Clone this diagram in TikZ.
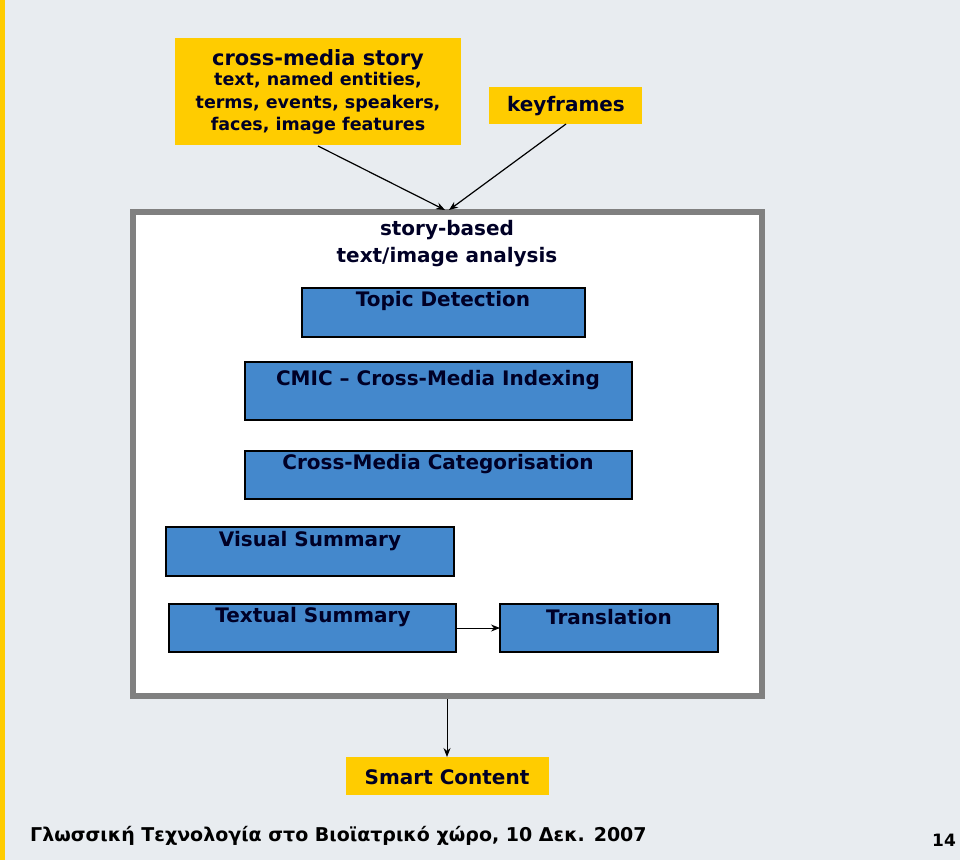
\documentclass[tikz,border=0pt]{standalone}
\usepackage{fontspec}
\setmainfont{DejaVu Sans}
\usetikzlibrary{arrows.meta}
\definecolor{bg}{HTML}{E8ECF0}
\definecolor{ylw}{HTML}{FFCC00}
\definecolor{blu}{HTML}{4488CC}
\definecolor{frm}{HTML}{808080}
\tikzset{
 x=1pt,y=-1pt,
 bluebox/.style={draw=black,line width=1.2pt,fill=blu},
 ylwbox/.style={fill=ylw},
 lbl/.style={font=\bfseries\fontsize{20}{22}\selectfont,text=black!85!blue,inner sep=0pt},
 conn/.style={-{Stealth[length=9pt,width=7pt]},line width=1pt}
}
\begin{document}
\begin{tikzpicture}
\fill[bg] (0,0) rectangle (960,860);
\fill[ylw] (0,0) rectangle (5,860);
\useasboundingbox (0,0) rectangle (960,860);
% top yellow boxes
\fill[ylwbox] (175,38) rectangle (461,145);
\node[lbl,align=center,font=\bfseries\fontsize{21}{23}\selectfont] (cms) at (318,60) {cross-media story};
\node[lbl,align=center,font=\bfseries\fontsize{17.5}{22.5}\selectfont,anchor=north] (cmt) at (318,72) {text, named entities,\\terms, events, speakers,\\faces, image features};
\coordinate (cmb) at (318,146);
\fill[ylwbox] (489,87) rectangle (642,124);
\node[lbl] (kf) at (566,106) {keyframes};
\coordinate (kfb) at (566,124);
% frame
\draw[frm,line width=6pt,fill=white] (133,212) rectangle (762,696);
\coordinate (ftop) at (447,209);
\coordinate (fbot) at (447,699);
\node[lbl,align=center,font=\bfseries\fontsize{20}{27}\selectfont] (sb) at (447,244) {story-based\\text/image analysis};
% blue boxes
\draw[bluebox] (302,288) rectangle (585,337);
\node[lbl] (td) at (443,301) {Topic Detection};
\draw[bluebox] (245,362) rectangle (632,420);
\node[lbl] (cmic) at (438,380) {CMIC -- Cross-Media Indexing};
\draw[bluebox] (245,451) rectangle (632,499);
\node[lbl] (cmc) at (438,464) {Cross-Media Categorisation};
\draw[bluebox] (166,527) rectangle (454,576);
\node[lbl] (vs) at (310,541) {Visual Summary};
\draw[bluebox] (169,604) rectangle (456,652);
\node[lbl] (ts) at (313,617) {Textual Summary};
\coordinate (tsr) at (456,628);
\draw[bluebox] (500,604) rectangle (718,652);
\node[lbl] (tr) at (609,617) {Translation};
\coordinate (trl) at (500,628);
\draw[conn] (tsr) -- (trl);
% smart content
\fill[ylwbox] (346,757) rectangle (549,795);
\node[lbl] (sc) at (447,777) {Smart Content};
\coordinate (sct) at (447,757);
% connectors
\draw[conn,line width=1.2pt] (cmb) -- (445,210);
\draw[conn,line width=1.2pt] (kfb) -- (449,210);
\draw[conn] (fbot) -- (sct);
% footer
\node[lbl,anchor=west,text=black,font=\bfseries\fontsize{19}{21}\selectfont] (ft) at (30,836) {Γλωσσική Τεχνολογία στο Βιοϊατρικό χώρο, 10 Δεκ. 2007};
\node[lbl,text=black,font=\bfseries\fontsize{17}{19}\selectfont] (pg) at (944,840) {14};
\end{tikzpicture}
\end{document}
